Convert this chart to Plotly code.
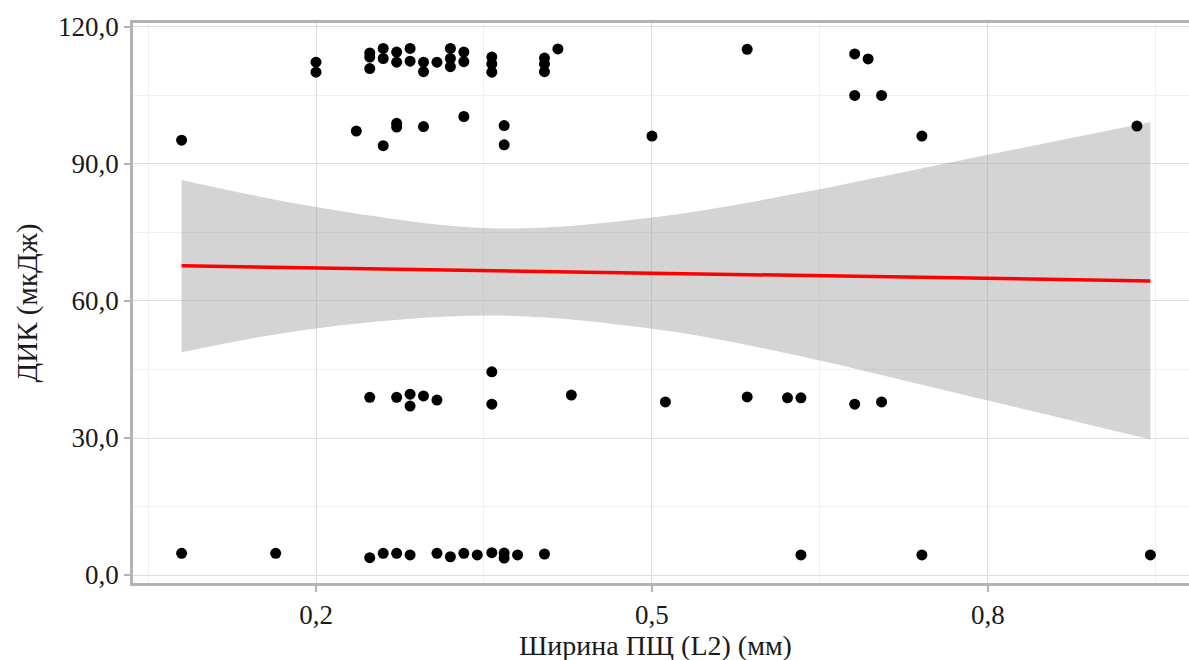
import plotly.graph_objects as go

# ---- data (Ширина ПЩ (L2), мм  vs  ДИК, мкДж) ----
width_top = [0.2, 0.2, 0.248, 0.248, 0.248, 0.26, 0.26, 0.272, 0.272, 0.284, 0.284,
             0.296, 0.296, 0.308, 0.32, 0.32, 0.32, 0.332, 0.332, 0.357, 0.357, 0.357,
             0.404, 0.404, 0.404, 0.416, 0.585, 0.681, 0.693, 0.681, 0.705, 0.741, 0.933]
dik_top = [112.3, 110.1, 114.3, 113.4, 110.9, 115.3, 113.1, 114.5, 112.3, 115.3, 112.5,
           112.3, 110.2, 112.3, 115.3, 113.1, 111.3, 114.5, 112.4, 113.4, 111.9, 110.1,
           113.2, 111.9, 110.2, 115.2, 115.1, 114.1, 113.0, 105.0, 105.0, 96.1, 98.3]

width_high = [0.08, 0.236, 0.26, 0.272, 0.272, 0.296, 0.332, 0.368, 0.368, 0.5]
dik_high = [95.2, 97.2, 94.0, 98.9, 98.1, 98.2, 100.4, 98.4, 94.2, 96.1]

width_mid = [0.248, 0.272, 0.284, 0.284, 0.296, 0.308, 0.357, 0.357, 0.428, 0.512,
             0.585, 0.621, 0.633, 0.681, 0.705]
dik_mid = [38.9, 38.9, 39.6, 37.0, 39.2, 38.3, 44.5, 37.4, 39.4, 37.9,
           39.0, 38.8, 38.8, 37.4, 37.9]

width_low = [0.08, 0.164, 0.248, 0.26, 0.272, 0.284, 0.308, 0.32, 0.332, 0.344,
             0.357, 0.368, 0.368, 0.38, 0.404, 0.633, 0.741, 0.945]
dik_low = [4.75, 4.75, 3.8, 4.75, 4.75, 4.4, 4.75, 4.0, 4.75, 4.4,
           4.9, 4.8, 3.7, 4.4, 4.6, 4.4, 4.4, 4.4]

# linear trend and its 95% confidence band
trend_x = [0.08, 0.945]
trend_y = [67.7, 64.4]
band_x = [0.08, 0.2, 0.36, 0.5, 0.614, 0.8, 0.945]
band_upper = [86.5, 80.6, 75.9, 78.3, 82.8, 92.0, 99.2]
band_lower = [48.8, 54.0, 56.8, 53.9, 48.9, 38.2, 29.7]

x_ticks = [0.2, 0.5, 0.8]
y_ticks = [0, 30, 60, 90, 120]
x_title = "Ширина ПЩ (L2) (мм)"
y_title = "ДИК (мкДж)"

x_all = width_top + width_high + width_mid + width_low
y_all = dik_top + dik_high + dik_mid + dik_low

FONT = "Liberation Serif"
TXT = "#1a1a1a"

fig = go.Figure()
fig.add_trace(go.Scatter(
    x=band_x, y=band_lower, mode="lines", line=dict(width=0, shape="spline"),
    hoverinfo="skip", showlegend=False))
fig.add_trace(go.Scatter(
    x=band_x, y=band_upper, mode="lines", line=dict(width=0, shape="spline"),
    fill="tonexty", fillcolor="rgba(153,153,153,0.42)",
    hoverinfo="skip", showlegend=False))
fig.add_trace(go.Scatter(
    x=x_all, y=y_all, mode="markers",
    marker=dict(color="black", size=11, line=dict(width=0)),
    showlegend=False))
fig.add_trace(go.Scatter(
    x=trend_x, y=trend_y, mode="lines", line=dict(color="#ff0000", width=3.5),
    showlegend=False))

fig.update_layout(
    width=1189, height=660,
    margin=dict(l=133, r=0, t=23, b=77),
    paper_bgcolor="white", plot_bgcolor="white",
    separators=", ",
    font=dict(family=FONT, size=27, color=TXT),
    annotations=[dict(
        text=x_title, xref="paper", yref="paper", x=0.495, y=-0.112,
        xanchor="center", yanchor="middle", showarrow=False,
        font=dict(family=FONT, size=28, color=TXT))],
)
fig.update_xaxes(
    range=[0.0366, 0.9795], tickvals=x_ticks, tickformat=".1f",
    showline=True, linecolor="#b3b3b3", linewidth=2.5, mirror=True,
    ticks="outside", ticklen=6, tickwidth=2, tickcolor="#b3b3b3",
    showgrid=True, gridcolor="#dedede", gridwidth=1.3,
    minor=dict(tickvals=[0.05, 0.35, 0.65, 0.95], showgrid=True,
               gridcolor="#f0f0f0", gridwidth=1, ticks=""),
    zeroline=False,
    tickfont=dict(family=FONT, size=27, color=TXT),
)
fig.update_yaxes(
    range=[-1.75, 120.87], tickvals=y_ticks, tickformat=".1f",
    showline=True, linecolor="#b3b3b3", linewidth=2.5,
    ticks="outside", ticklen=6, tickwidth=2, tickcolor="#b3b3b3",
    showgrid=True, gridcolor="#dedede", gridwidth=1.3,
    minor=dict(tickvals=[15, 45, 75, 105], showgrid=True,
               gridcolor="#f0f0f0", gridwidth=1, ticks=""),
    zeroline=False,
    title=dict(text=y_title, font=dict(family=FONT, size=29, color=TXT), standoff=12),
    tickfont=dict(family=FONT, size=27, color=TXT),
)

fig.write_html("out.html")
